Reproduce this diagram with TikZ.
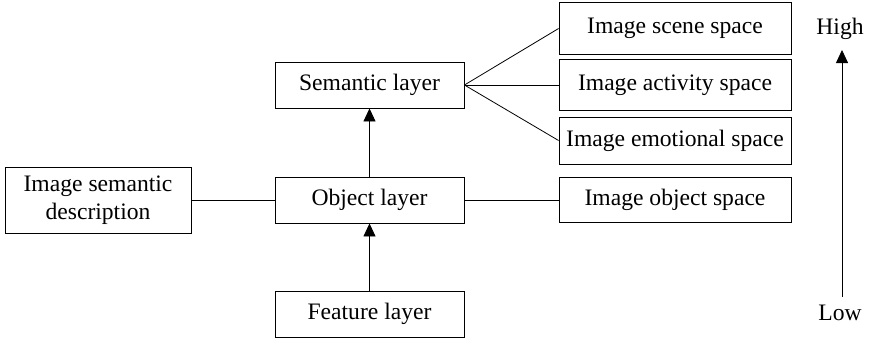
\documentclass[tikz,border=0pt]{standalone}
\usepackage{fontspec}
\setmainfont{Liberation Serif}
\usetikzlibrary{arrows.meta}
\begin{document}
\begin{tikzpicture}[x=1pt,y=-1pt,
  box/.style={draw,line width=0.9pt,inner sep=0pt,font=\fontsize{23.6}{28}\selectfont,align=center},
  lbl/.style={inner sep=0pt,font=\fontsize{23.6}{28}\selectfont},
  con/.style={line width=0.8pt},
  arr/.style={line width=0.8pt,-{Triangle[width=12pt,length=13pt]}}]
\useasboundingbox (0,0) rectangle (869,338);
\node[box,minimum width=189pt,minimum height=46pt] (sem) at (369.5,85) {Semantic layer};
\node[box,minimum width=189pt,minimum height=46pt] (obj) at (369.5,200) {Object layer};
\node[box,minimum width=189pt,minimum height=46pt] (feat) at (369.5,314) {Feature layer};
\node[box,minimum width=186pt,minimum height=66pt] (desc) at (98,200) {Image semantic\\description};
\node[box,minimum width=232pt,minimum height=52pt] (scene) at (675,28.5) {Image scene space};
\node[box,minimum width=232pt,minimum height=51pt] (act) at (675,85) {Image activity space};
\node[box,minimum width=232pt,minimum height=47pt] (emo) at (675,140.5) {Image emotional space};
\node[box,minimum width=232pt,minimum height=45pt] (osp) at (675,200) {Image object space};
\node[lbl] (high) at (840,29) {High};
\node[lbl] (low) at (840,313) {Low};
\coordinate (abot) at (842,297);
\coordinate (atop) at (842,50);
\draw[arr] (feat.north) -- (obj.south);
\draw[arr] (obj.north) -- (sem.south);
\draw[con] (sem.east) -- (scene.west);
\draw[con] (sem.east) -- (act.west);
\draw[con] (sem.east) -- (emo.west);
\draw[con] (desc.east) -- (obj.west);
\draw[con] (obj.east) -- (osp.west);
\draw[arr] (abot) -- (atop);
\end{tikzpicture}
\end{document}
